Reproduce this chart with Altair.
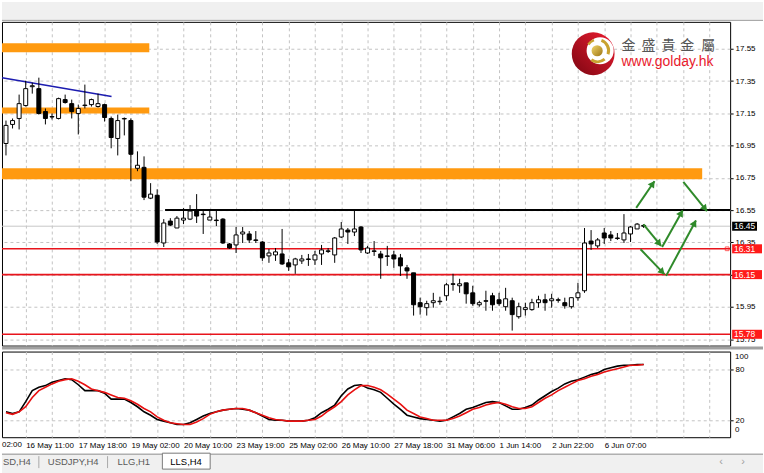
import json
import math

import altair as alt
import pandas as pd

# ---------------- H4 candles (LLS) ----------------
opens = [16.963, 17.081, 17.118, 17.198, 17.315, 17.303, 17.161, 17.130, 17.118, 17.235,
         17.210, 17.149, 17.198, 17.204, 17.192, 17.204, 17.118, 16.994, 17.115, 17.105,
         16.809, 16.815, 16.624, 16.642, 16.346, 16.482, 16.439, 16.488, 16.494, 16.550,
         16.525, 16.488, 16.488, 16.494, 16.340, 16.334, 16.402, 16.402, 16.365, 16.352,
         16.266, 16.272, 16.278, 16.223, 16.210, 16.235, 16.247, 16.241, 16.278, 16.297,
         16.272, 16.383, 16.426, 16.414, 16.445, 16.284, 16.297, 16.278, 16.266, 16.272,
         16.254, 16.192, 16.161, 15.976, 15.945, 15.976, 15.982, 16.019, 16.093, 16.081,
         16.099, 16.037, 15.963, 15.988, 16.019, 15.994, 15.951, 15.988, 15.889, 15.933,
         15.933, 15.976, 15.994, 15.988, 15.994, 15.976, 15.951, 16.007, 16.050, 16.358,
         16.328, 16.408, 16.396, 16.377, 16.365, 16.402, 16.433, 16.455]
highs = [17.105, 17.118, 17.266, 17.352, 17.340, 17.371, 17.180, 17.149, 17.247, 17.266,
         17.235, 17.204, 17.328, 17.241, 17.272, 17.210, 17.130, 17.142, 17.124, 17.118,
         16.914, 16.883, 16.717, 16.679, 16.494, 16.500, 16.513, 16.562, 16.581, 16.649,
         16.544, 16.550, 16.550, 16.500, 16.346, 16.445, 16.445, 16.420, 16.420, 16.358,
         16.309, 16.315, 16.433, 16.247, 16.254, 16.272, 16.278, 16.297, 16.334, 16.315,
         16.383, 16.476, 16.439, 16.550, 16.451, 16.328, 16.358, 16.297, 16.328, 16.297,
         16.278, 16.210, 16.161, 16.007, 15.988, 16.037, 16.013, 16.099, 16.155, 16.124,
         16.099, 16.081, 15.988, 16.050, 16.037, 16.037, 16.068, 16.007, 15.976, 15.976,
         16.000, 16.019, 16.031, 16.031, 16.007, 16.007, 16.007, 16.099, 16.439, 16.426,
         16.377, 16.439, 16.420, 16.408, 16.525, 16.451, 16.470, 16.463]
lows = [16.889, 17.056, 17.050, 17.192, 17.272, 17.142, 17.081, 17.112, 17.112, 17.210,
        17.118, 17.019, 17.180, 17.192, 17.186, 17.099, 16.933, 16.889, 17.013, 16.729,
        16.791, 16.612, 16.618, 16.340, 16.321, 16.451, 16.439, 16.463, 16.488, 16.470,
        16.402, 16.488, 16.451, 16.340, 16.309, 16.284, 16.346, 16.346, 16.346, 16.235,
        16.223, 16.235, 16.210, 16.173, 16.155, 16.216, 16.204, 16.210, 16.210, 16.284,
        16.223, 16.377, 16.340, 16.389, 16.284, 16.278, 16.266, 16.124, 16.204, 16.192,
        16.142, 16.124, 15.896, 15.902, 15.896, 15.945, 15.963, 15.988, 16.050, 16.037,
        15.970, 15.957, 15.951, 15.926, 15.926, 15.957, 15.926, 15.803, 15.877, 15.896,
        15.926, 15.945, 15.926, 15.945, 15.976, 15.939, 15.939, 15.988, 16.037, 16.303,
        16.315, 16.340, 16.358, 16.365, 16.346, 16.352, 16.433, 16.439]
closes = [17.075, 17.105, 17.210, 17.303, 17.321, 17.149, 17.118, 17.127, 17.241, 17.217,
          17.161, 17.180, 17.201, 17.235, 17.210, 17.124, 17.000, 17.105, 17.118, 16.896,
          16.828, 16.630, 16.649, 16.352, 16.470, 16.457, 16.500, 16.500, 16.544, 16.513,
          16.522, 16.507, 16.485, 16.346, 16.315, 16.396, 16.414, 16.365, 16.362, 16.254,
          16.284, 16.291, 16.216, 16.198, 16.247, 16.247, 16.244, 16.272, 16.303, 16.294,
          16.377, 16.433, 16.414, 16.433, 16.303, 16.315, 16.294, 16.254, 16.263, 16.247,
          16.204, 16.173, 15.963, 15.951, 15.970, 15.988, 15.985, 16.087, 16.090, 16.093,
          16.031, 15.970, 15.976, 15.985, 15.963, 15.970, 16.000, 15.902, 15.951, 15.945,
          15.976, 15.994, 15.976, 16.000, 15.991, 15.957, 16.007, 16.037, 16.346, 16.340,
          16.365, 16.377, 16.377, 16.374, 16.408, 16.445, 16.463, 16.450]

# ---------------- Stochastic oscillator ----------------
stoch_k = [30, 28, 30, 42, 55, 59, 61, 65, 67, 69, 68, 62, 55, 55, 55, 52, 45, 45, 45, 41,
           36, 30, 26, 21, 19, 17, 15, 15, 17, 21, 25, 28, 30, 32, 33, 34, 33, 32, 29, 25,
           21, 20, 20, 19, 19, 19, 20, 23, 29, 33, 38, 49, 57, 61, 62, 58, 56, 53, 46, 39,
           33, 26, 24, 22, 21, 20, 19, 20, 24, 28, 33, 35, 38, 41, 42, 41, 37, 33, 33, 35,
           38, 44, 49, 54, 58, 63, 66, 68, 71, 74, 76, 80, 82, 84, 85, 85, 86, 86]
stoch_d = [29, 27, 30, 36, 47, 55, 59, 63, 66, 68, 69, 66, 62, 57, 55, 53, 50, 47, 46, 43,
           39, 34, 30, 24, 20, 17, 16, 15, 15, 18, 22, 27, 30, 32, 33, 34, 34, 32, 29, 26,
           23, 21, 20, 19, 19, 19, 20, 21, 25, 31, 36, 42, 50, 56, 61, 61, 59, 56, 51, 45,
           39, 32, 28, 24, 22, 20, 20, 20, 22, 25, 29, 33, 35, 38, 40, 41, 39, 36, 34, 34,
           36, 41, 46, 50, 55, 59, 63, 67, 69, 72, 74, 77, 79, 81, 83, 85, 85, 86]

# ---------------- time axis ----------------
time_labels = ["16 May 11:00", "17 May 18:00", "19 May 02:00", "20 May 10:00",
               "23 May 19:00", "25 May 02:00", "26 May 10:00", "27 May 18:00",
               "31 May 06:00", "1 Jun 14:00", "2 Jun 22:00", "6 Jun 07:00"]
clipped_label = "02:00"
price_ticks = [15.75, 15.95, 16.15, 16.35, 16.55, 16.75, 16.95, 17.15, 17.35, 17.55]

# ---------------- drawn objects ----------------
support_levels = [16.31, 16.15, 15.78]
resistance_level = 16.55
resistance_from = 24.2
zone_low = [17.528, 17.149, 16.741]
zone_high = [17.584, 17.186, 16.809]
zone_end = [21.8, 21.8, 105.9]
trend_x = [-0.6, 16.06]
trend_y = [17.371, 17.254]
arrow_x0 = [95.86, 103.03, 96.97, 99.80, 96.52, 100.41]
arrow_y0 = [16.564, 16.725, 16.462, 16.321, 16.307, 16.142]
arrow_x1 = [98.64, 106.62, 99.65, 102.92, 100.15, 104.95]
arrow_y1 = [16.729, 16.544, 16.328, 16.548, 16.153, 16.486]
brand_chars = ["金", "盛", "貴", "金", "屬"]
brand_url_text = "www.golday.hk"
tabs = ["SD,H4", "USDJPY,H4", "LLG,H1", "LLS,H4"]

# ---------------- layout ----------------
W, H, HO = 731, 325, 86
XMIN, XMAX = -0.606, 110.15
YMIN, YMAX = 15.710, 17.717
OMIN, OMAX = 0.0, 101.2
FONT = "Liberation Sans"
GRID = "#c3c3c3"
GREEN = "#2f8a2a"
RED = "#e8141c"

n = len(opens)
candles = pd.DataFrame({"i": list(range(n)), "o": opens, "h": highs, "l": lows, "c": closes})
candles["dir"] = ["up" if c >= o else "down" for o, c in zip(opens, closes)]

grid_x = list(range(3, 111, 4))
label_expr = ("(datum.value - 3) % 8 == 0 ? (" + json.dumps(time_labels)
              + "[(datum.value - 3) / 8] || '') : ''")

xscale = alt.Scale(domain=[XMIN, XMAX], nice=False, zero=False, padding=0)
yscale = alt.Scale(domain=[YMIN, YMAX], nice=False, zero=False, padding=0)
oscale = alt.Scale(domain=[OMIN, OMAX], nice=False, zero=False, padding=0)

main_x_axis = alt.Axis(values=grid_x, labels=False, ticks=False, domain=False,
                       grid=True, title=None)
osc_x_axis = alt.Axis(values=grid_x, labelExpr=label_expr, labelAlign="left",
                      labelBaseline="top", labelPadding=4, labelOverlap=False,
                      labelFlush=False, ticks=False, domain=False, grid=True, title=None)
main_y_axis = alt.Axis(orient="right", values=price_ticks, format=".2f", grid=True,
                       domain=False, tickSize=3, labelPadding=2, labelAlign="left",
                       title=None)
osc_y_axis = alt.Axis(orient="right", values=[20, 80], grid=True, domain=False,
                      tickSize=3, labelPadding=2, labelAlign="left", title=None)


def MX(f):
    return alt.X(f, type="quantitative", scale=xscale, axis=main_x_axis)


def MY(f):
    return alt.Y(f, type="quantitative", scale=yscale, axis=main_y_axis)


def OX(f):
    return alt.X(f, type="quantitative", scale=xscale, axis=osc_x_axis)


def OY(f):
    return alt.Y(f, type="quantitative", scale=oscale, axis=osc_y_axis)


one = pd.DataFrame({"k": [0]})

# ---- main price panel ----
chrome_top = alt.Chart(one).mark_rect(color="#f0f0f0").encode(
    x=alt.value(0), x2=alt.value(764), y=alt.value(-20), y2=alt.value(-2))
chrome_line = alt.Chart(one).mark_rule(color="#9a9a9a", strokeWidth=1).encode(
    x=alt.value(0), x2=alt.value(764), y=alt.value(-1.5))

zones = pd.DataFrame({"lo": zone_low, "hi": zone_high, "x0": [XMIN] * 3, "x1": zone_end})
zone_layer = alt.Chart(zones).mark_rect(color="#ff9a10", clip=True).encode(
    x=MX("x0"), x2="x1", y=MY("lo"), y2="hi")

cur_line = alt.Chart(pd.DataFrame({"p": [closes[-1]]})).mark_rule(
    color="#c8c8c8", strokeWidth=1).encode(y=MY("p"))
sup_layer = alt.Chart(pd.DataFrame({"p": support_levels})).mark_rule(
    color=RED, strokeWidth=1.6).encode(y=MY("p"))
res_layer = alt.Chart(pd.DataFrame({"p": [resistance_level], "x0": [resistance_from],
                                    "x1": [XMAX]})).mark_rule(
    color="black", strokeWidth=2).encode(x=MX("x0"), x2="x1", y=MY("p"))
trend_layer = alt.Chart(pd.DataFrame({"x": trend_x, "y": trend_y})).mark_line(
    color="#1c1cb0", strokeWidth=1.5, clip=True).encode(x=MX("x"), y=MY("y"))

wicks = alt.Chart(candles).mark_rule(color="black", strokeWidth=1).encode(
    x=MX("i"), y=MY("l"), y2="h")
bodies = alt.Chart(candles).mark_bar(width=4, stroke="black", strokeWidth=1).encode(
    x=MX("i"), y=MY("o"), y2="c",
    fill=alt.Fill("dir:N", scale=alt.Scale(domain=["up", "down"], range=["white", "black"]),
                  legend=None))

# scenario arrows
px_x = W / (XMAX - XMIN)
px_y = H / (YMAX - YMIN)
segs = pd.DataFrame({"x0": arrow_x0, "y0": arrow_y0, "x1": arrow_x1, "y1": arrow_y1})
angles, hx, hy = [], [], []
for x0, y0, x1, y1 in zip(arrow_x0, arrow_y0, arrow_x1, arrow_y1):
    dx = (x1 - x0) * px_x
    dy = -(y1 - y0) * px_y
    ln = math.hypot(dx, dy)
    angles.append(math.degrees(math.atan2(dx, -dy)) % 360)
    hx.append(x1 - dx / ln * 3 / px_x)
    hy.append(y1 + dy / ln * 3 / px_y)
heads = pd.DataFrame({"x": hx, "y": hy, "a": angles})
arrow_lines = alt.Chart(segs).mark_rule(color=GREEN, strokeWidth=2).encode(
    x=MX("x0"), x2="x1", y=MY("y0"), y2="y1")
arrow_heads = alt.Chart(heads).mark_point(shape="triangle-up", filled=True, color=GREEN,
                                          size=60, opacity=1).encode(
    x=MX("x"), y=MY("y"), angle=alt.Angle("a:Q", scale=None))

# price tags on the axis
cur_tag = pd.DataFrame({"p": [closes[-1]], "t": [f"{closes[-1]:.2f}"]})
sup_tag = pd.DataFrame({"p": support_levels, "t": [f"{v:.2f}" for v in support_levels]})
cur_box = alt.Chart(cur_tag).transform_calculate(
    a="datum.p + 0.028", b="datum.p - 0.028").mark_rect(color="black").encode(
    x=alt.value(733), x2=alt.value(758), y=MY("a"), y2="b")
sup_box = alt.Chart(sup_tag).transform_calculate(
    a="datum.p + 0.028", b="datum.p - 0.028").mark_rect(color="#ff1a1a").encode(
    x=alt.value(733), x2=alt.value(763), y=MY("a"), y2="b")
tag_text = alt.Chart(pd.concat([cur_tag, sup_tag])).mark_text(
    align="left", baseline="middle", color="white", font=FONT, fontSize=8.5).encode(
    x=alt.value(735), y=MY("p"), text="t:N")
tag_mark = alt.Chart(pd.DataFrame({"p": [support_levels[0]]})).mark_point(
    shape="square", size=14, color="#ff1a1a", filled=False, strokeWidth=1).encode(
    x=alt.value(728), y=MY("p"))

# brand mark
ring = alt.Chart(one).mark_point(
    shape="circle", filled=True, size=1849, opacity=1,
    fill={"gradient": "linear", "x1": 0, "y1": 1, "x2": 1, "y2": 0,
          "stops": [{"offset": 0, "color": "#7c0612"}, {"offset": 1, "color": "#ee1c30"}]}
).encode(x=alt.value(593.5), y=alt.value(32))
hole = alt.Chart(one).mark_point(shape="circle", filled=True, size=740, opacity=1,
                                 color="white").encode(x=alt.value(600.5), y=alt.value(29))
ball = alt.Chart(one).mark_point(
    shape="circle", filled=True, size=125, opacity=1,
    fill={"gradient": "linear", "x1": 0, "y1": 0, "x2": 1, "y2": 1,
          "stops": [{"offset": 0, "color": "#f2d76a"}, {"offset": 1, "color": "#9c7414"}]}
).encode(x=alt.value(597.5), y=alt.value(29))
swoosh1 = alt.Chart(one).mark_arc(x=598, y=29, radius=12.5, radius2=9.5, theta=0.35,
                                  theta2=1.9, color="#c9a230")
swoosh2 = alt.Chart(one).mark_arc(x=598, y=29, radius=12.5, radius2=9.5, theta=2.45,
                                  theta2=3.75, color="#c9a230")
swoosh3 = alt.Chart(one).mark_arc(x=598, y=29, radius=12.5, radius2=10, theta=5.3,
                                  theta2=5.95, color="#c9a230")
brand_df = pd.DataFrame({"t": brand_chars, "x": [622, 642, 662, 681, 702]})
brand_cn = alt.Chart(brand_df).mark_text(align="left", baseline="middle",
                                         font="Noto Sans CJK TC", fontSize=14,
                                         color="#555555").encode(
    x=alt.X("x:Q", scale=None, axis=None), y=alt.value(24), text="t:N")
brand_url = alt.Chart(one).mark_text(align="left", baseline="alphabetic", font=FONT,
                                     fontSize=14, color="#e8192c").encode(
    x=alt.value(622), y=alt.value(44), text=alt.value(brand_url_text))

separator = alt.Chart(one).mark_rect(color="#a0a0a0").encode(
    x=alt.value(0), x2=alt.value(764), y=alt.value(H + 1), y2=alt.value(H + 4))

main = alt.layer(
    chrome_top, chrome_line, zone_layer, cur_line, sup_layer, res_layer, trend_layer,
    wicks, bodies, arrow_lines, arrow_heads, ring, hole, swoosh1, swoosh2, swoosh3, ball,
    brand_cn, brand_url, cur_box, sup_box, tag_text, tag_mark, separator
).properties(width=W, height=H)

# ---- stochastic panel ----
osc_df = pd.DataFrame({"i": list(range(n)), "k": stoch_k, "d": stoch_d})
k_line = alt.Chart(osc_df).mark_line(color="black", strokeWidth=1.6).encode(
    x=OX("i"), y=OY("k"))
d_line = alt.Chart(osc_df).mark_line(color="#e81010", strokeWidth=1.6).encode(
    x=OX("i"), y=OY("d"))
top_text = alt.Chart(one).mark_text(align="left", baseline="middle", font=FONT,
                                    fontSize=8, color="black").encode(
    x=alt.value(736), y=alt.value(HO * (1 - 95.3 / OMAX)), text=alt.value("100"))
bottom_text = alt.Chart(one).mark_text(align="left", baseline="middle", font=FONT,
                                       fontSize=8, color="black").encode(
    x=alt.value(736), y=alt.value(HO * (1 - 8.2 / OMAX)), text=alt.value("0"))
first_label = alt.Chart(one).mark_text(align="left", baseline="top", font=FONT,
                                       fontSize=8, color="black").encode(
    x=alt.value(0), y=alt.value(HO + 4), text=alt.value(clipped_label))

tab_bar = alt.Chart(one).mark_rect(color="#f0f0f0").encode(
    x=alt.value(0), x2=alt.value(764), y=alt.value(103), y2=alt.value(124))
tab_line = alt.Chart(one).mark_rule(color="#8a8a8a", strokeWidth=1).encode(
    x=alt.value(0), x2=alt.value(764), y=alt.value(103))
active_tab = alt.Chart(one).mark_rect(color="white", stroke="#7a7a7a", strokeWidth=1).encode(
    x=alt.value(161), x2=alt.value(209), y=alt.value(102), y2=alt.value(118))
tab_df = pd.DataFrame({"t": tabs, "x": [1, 46, 116, 169],
                       "col": ["#5a5a5a", "#5a5a5a", "#5a5a5a", "#000000"]})
tab_text = alt.Chart(tab_df).mark_text(align="left", baseline="middle", font=FONT,
                                       fontSize=9.5).encode(
    x=alt.X("x:Q", scale=None, axis=None), y=alt.value(111),
    color=alt.Color("col:N", scale=None, legend=None), text="t:N")
sep_df = pd.DataFrame({"x": [37, 106]})
tab_seps = alt.Chart(sep_df).mark_rule(color="#a8a8a8", strokeWidth=1).encode(
    x=alt.X("x:Q", scale=None, axis=None), y=alt.value(105), y2=alt.value(117))
scroll_df = pd.DataFrame({"x": [722, 744], "t": ["‹", "›"]})
scroll = alt.Chart(scroll_df).mark_text(align="center", baseline="middle", font=FONT,
                                        fontSize=11, color="#a0a0a0").encode(
    x=alt.X("x:Q", scale=None, axis=None), y=alt.value(111), text="t:N")

osc = alt.layer(
    k_line, d_line, top_text, bottom_text, first_label, tab_bar, tab_line, active_tab,
    tab_seps, tab_text, scroll
).properties(width=W, height=HO)

chart = alt.vconcat(main, osc, spacing=0).properties(
    padding=0, background="white"
).configure_view(
    stroke="black", strokeWidth=1
).configure_axis(
    gridColor=GRID, gridDash=[3, 3], gridWidth=1, tickColor="black",
    labelFont=FONT, labelFontSize=8, labelColor="black"
)

chart.save("out.html", embed_options={"renderer": "svg", "actions": False})
